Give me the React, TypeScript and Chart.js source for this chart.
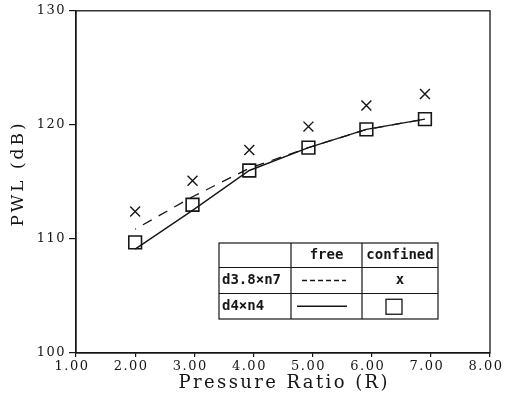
import React, { useEffect, useRef } from 'react';
import { Chart, registerables } from 'chart.js';

Chart.register(...registerables);

// ---- data ----
const pressureRatio = [2.0, 2.97, 3.93, 4.93, 5.91, 6.9];
const freeD38n7 = [110.85, 113.7, 116.2, 118.0, 119.6, 120.5];
const freeD4n4 = [109.1, 112.5, 116.0, 118.0, 119.6, 120.5];
const confinedD38n7 = [112.4, 115.1, 117.8, 119.85, 121.7, 122.7];
const confinedD4n4 = [109.7, 113.0, 116.0, 118.0, 119.6, 120.5];

const xMin = 1;
const xMax = 8;
const yMin = 100;
const yMax = 130;
const xStep = 1;
const yStep = 10;

const xTitle = 'Pressure Ratio (R)';
const yTitle = 'PWL (dB)';
const tableHeader = ['', 'free', 'confined'];
const tableRowNames = ['d3.8×n7', 'd4×n4'];
const tableConfinedMarks = ['x', ''];

const INK = '#161616';

function pts(ys: number[]) {
  return pressureRatio.map((x, i) => ({ x, y: ys[i] }));
}

const decorPlugin = {
  id: 'decor',
  beforeDraw(chart: any) {
    chart.ctx.letterSpacing = '1.5px';
  },
  beforeDatasetsDraw(chart: any) {
    chart.ctx.letterSpacing = '0px';
  },
  afterDraw(chart: any) {
    const ctx = chart.ctx as CanvasRenderingContext2D;
    const a = chart.chartArea;
    ctx.save();
    (ctx as any).letterSpacing = '0px';
    // frame
    ctx.strokeStyle = INK;
    ctx.lineWidth = 1.3;
    ctx.strokeRect(a.left, a.top, a.right - a.left, a.bottom - a.top);

    // x title
    ctx.fillStyle = INK;
    ctx.font = '18px "DejaVu Serif"';
    const xs = 2.4;
    (ctx as any).letterSpacing = xs + 'px';
    ctx.textBaseline = 'alphabetic';
    ctx.textAlign = 'left';
    let w = ctx.measureText(xTitle).width - xs;
    ctx.fillText(xTitle, (a.left + a.right) / 2 - w / 2, 388);

    // y title
    ctx.font = '17px "DejaVu Serif"';
    const ys = 3;
    (ctx as any).letterSpacing = ys + 'px';
    w = ctx.measureText(yTitle).width - ys;
    ctx.save();
    ctx.translate(23, 175);
    ctx.rotate(-Math.PI / 2);
    ctx.fillText(yTitle, -w / 2, 0);
    ctx.restore();
    (ctx as any).letterSpacing = '0px';

    // table
    const cx = [219, 291, 362, 438];
    const ry = [243, 267.5, 293.5, 319];
    ctx.fillStyle = '#ffffff';
    ctx.fillRect(cx[0], ry[0], cx[3] - cx[0], ry[3] - ry[0]);
    ctx.strokeStyle = INK;
    ctx.lineWidth = 1.2;
    ctx.strokeRect(cx[0], ry[0], cx[3] - cx[0], ry[3] - ry[0]);
    ctx.beginPath();
    for (let i = 1; i < 3; i++) {
      ctx.moveTo(cx[i], ry[0]);
      ctx.lineTo(cx[i], ry[3]);
      ctx.moveTo(cx[0], ry[i]);
      ctx.lineTo(cx[3], ry[i]);
    }
    ctx.stroke();

    ctx.fillStyle = INK;
    ctx.font = 'bold 14px "DejaVu Sans Mono"';
    ctx.textBaseline = 'middle';
    ctx.textAlign = 'center';
    for (let c = 1; c < 3; c++) {
      ctx.fillText(tableHeader[c], (cx[c] + cx[c + 1]) / 2, (ry[0] + ry[1]) / 2);
    }
    ctx.textAlign = 'left';
    for (let r = 0; r < tableRowNames.length; r++) {
      const yc = (ry[r + 1] + ry[r + 2]) / 2;
      ctx.fillText(tableRowNames[r], cx[0] + 3, yc);
    }
    // free samples
    ctx.lineWidth = 1.3;
    ctx.beginPath();
    ctx.setLineDash([5, 3]);
    const y1 = (ry[1] + ry[2]) / 2;
    ctx.moveTo(302, y1);
    ctx.lineTo(346, y1);
    ctx.stroke();
    ctx.setLineDash([]);
    const y2 = (ry[2] + ry[3]) / 2;
    ctx.beginPath();
    ctx.moveTo(297, y2);
    ctx.lineTo(347, y2);
    ctx.stroke();
    // confined samples
    ctx.textAlign = 'center';
    ctx.fillText(tableConfinedMarks[0], (cx[2] + cx[3]) / 2, y1);
    ctx.strokeRect(386, y2 - 7, 16, 15);
    ctx.restore();
  },
};

export default function App() {
  const ref = useRef<HTMLCanvasElement | null>(null);
  useEffect(() => {
    if (!ref.current) return;
    const chart = new Chart(ref.current, {
      type: 'line',
      data: {
        datasets: [
          {
            label: 'd3.8×n7 free',
            data: pts(freeD38n7),
            borderColor: INK,
            borderWidth: 1.3,
            borderDash: [10, 8],
            borderDashOffset: 9,
            pointRadius: 0,
            fill: false,
            tension: 0,
          },
          {
            label: 'd4×n4 free',
            data: pts(freeD4n4),
            borderColor: INK,
            borderWidth: 1.4,
            pointRadius: 0,
            fill: false,
            tension: 0,
          },
          {
            label: 'd3.8×n7 confined',
            data: pts(confinedD38n7),
            showLine: false,
            pointStyle: 'crossRot',
            pointRadius: 7,
            pointBorderColor: INK,
            pointBorderWidth: 1.4,
            pointBackgroundColor: 'rgba(0,0,0,0)',
          },
          {
            label: 'd4×n4 confined',
            data: pts(confinedD4n4),
            showLine: false,
            pointStyle: 'rect',
            pointRadius: 9,
            pointBorderColor: INK,
            pointBorderWidth: 1.6,
            pointBackgroundColor: 'rgba(0,0,0,0)',
          },
        ],
      },
      options: {
        animation: false,
        responsive: false,
        maintainAspectRatio: false,
        layout: { padding: { top: 9, right: 24, left: 0, bottom: 0 } },
        plugins: {
          legend: { display: false },
          tooltip: { enabled: false },
          title: { display: false },
        },
        scales: {
          x: {
            type: 'linear',
            min: xMin,
            max: xMax,
            afterFit: (s: any) => {
              s.height = 50;
            },
            ticks: {
              stepSize: xStep,
              color: INK,
              font: { family: '"DejaVu Serif"', size: 13 },
              padding: 2,
              labelOffset: -4,
              maxRotation: 0,
              callback: (v: any) => Number(v).toFixed(2),
            },
            grid: {
              drawOnChartArea: false,
              color: INK,
              tickLength: 4,
              lineWidth: 1.2,
            },
            border: { display: true, color: INK, width: 1.3 },
          },
          y: {
            type: 'linear',
            min: yMin,
            max: yMax,
            afterFit: (s: any) => {
              s.width = 76;
            },
            ticks: {
              stepSize: yStep,
              color: INK,
              font: { family: '"DejaVu Serif"', size: 13 },
              padding: 3,
              callback: (v: any) => String(v),
            },
            grid: {
              drawOnChartArea: false,
              color: INK,
              tickLength: 7,
              lineWidth: 1.2,
            },
            border: { display: true, color: INK, width: 1.3 },
          },
        },
      },
      plugins: [decorPlugin],
    } as any);
    return () => chart.destroy();
  }, []);
  return (
    <div style={{ position: 'absolute', left: 0, top: 0, width: 514, height: 403, background: '#fff' }}>
      <canvas ref={ref} width={514} height={403} />
    </div>
  );
}
